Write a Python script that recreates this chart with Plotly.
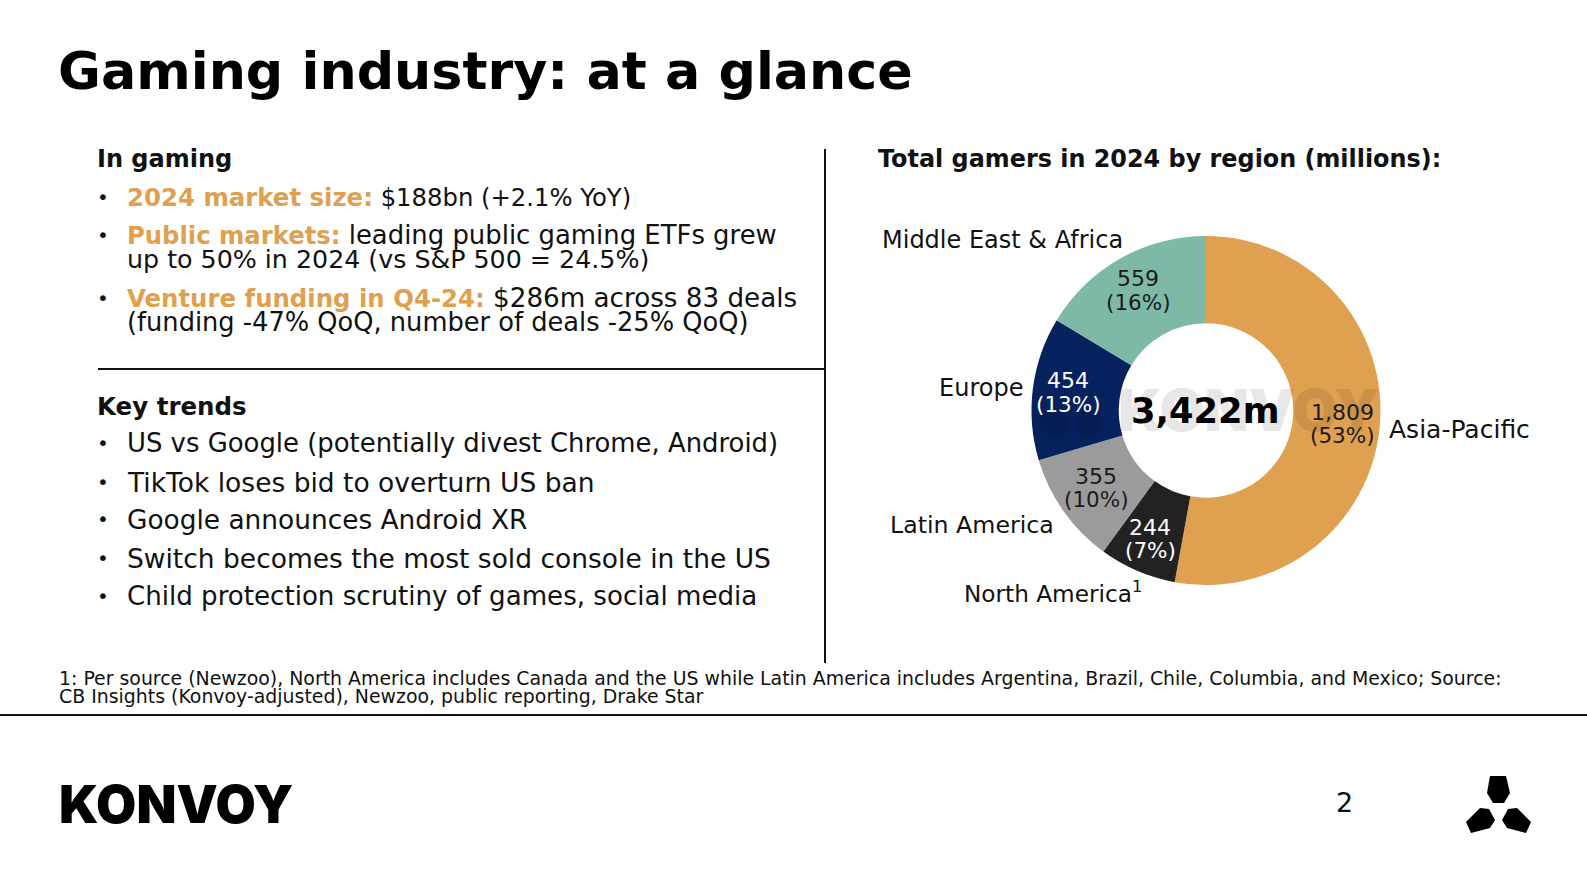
import plotly.graph_objects as go

W, H = 1587, 892
FONT = "DejaVu Sans"
LOGO_FONT = "Inter"
GOLD = "#DFA04F"

regions = ["Asia-Pacific", "North America", "Latin America", "Europe", "Middle East & Africa"]
gamers = [1809, 244, 355, 454, 559]
shares = [53, 7, 10, 13, 16]
slice_colors = ["#DFA04F", "#222222", "#9B9B9B", "#06225E", "#7EB9A8"]
label_colors = ["#1a1a1a", "#ffffff", "#1a1a1a", "#ffffff", "#1a1a1a"]


def gold(s, size):
    return f'<b><span style="color:{GOLD};font-size:{size}px">{s}</span></b>'


in_gaming_lines = [
    gold("2024 market size:", 24.4) + " $188bn (+2.1% YoY)",
    gold("Public markets:", 24.3) + " leading public gaming ETFs grew",
    "up to 50% in 2024 (vs S&P 500 = 24.5%)",
    gold("Venture funding in Q4-24:", 24.4) + " $286m across 83 deals",
    "(funding -47% QoQ, number of deals -25% QoQ)",
]
key_trends = [
    "US vs Google (potentially divest Chrome, Android)",
    "TikTok loses bid to overturn US ban",
    "Google announces Android XR",
    "Switch becomes the most sold console in the US",
    "Child protection scrutiny of games, social media",
]
footnotes = [
    "1: Per source (Newzoo), North America includes Canada and the US while Latin America includes Argentina, Brazil, Chile, Columbia, and Mexico; Source:",
    "CB Insights (Konvoy-adjusted), Newzoo, public reporting, Drake Star",
]

fig = go.Figure(go.Pie(
    labels=regions,
    values=gamers,
    textinfo="none",
    marker=dict(colors=slice_colors, line=dict(width=0)),
    hole=0.5,
    sort=False,
    direction="clockwise",
    rotation=0,
    showlegend=False,
    domain=dict(x=[1031 / W, 1381 / W], y=[1 - 585 / H, 1 - 236 / H]),
))


def add_text(x, y, s, size=24, anchor="left", bold=False, color="#111111", opacity=1, family=FONT, weight=None):
    fig.add_annotation(
        x=x / W, y=1 - y / H, xref="paper", yref="paper",
        text=f"<b>{s}</b>" if bold else s,
        showarrow=False, xanchor=anchor, yanchor="middle", opacity=opacity,
        borderpad=0, font=dict(family=family, size=size, color=color, weight=weight),
    )


def add_line(x0, y0, x1, y1):
    fig.add_shape(type="line", xref="paper", yref="paper",
                  x0=x0 / W, y0=1 - y0 / H, x1=x1 / W, y1=1 - y1 / H,
                  line=dict(color="#111111", width=2))


def add_blob(points, color="#000000", opacity=1):
    path = "M" + " L".join(f"{x / W},{1 - y / H}" for x, y in points) + " Z"
    fig.add_shape(type="path", xref="paper", yref="paper", path=path,
                  fillcolor=color, opacity=opacity, line=dict(width=0), layer="above")


add_text(57, 70, "Gaming industry: at a glance", size=52.3, bold=True, color="#000000")

# left column
add_text(96, 159, "In gaming", size=24, bold=True)
for y, size, line in zip([197, 235, 259, 298, 322], [24.3, 25.9, 25.3, 26.2, 25.7], in_gaming_lines):
    add_text(125.5, y, line, size=size)
for y in [197, 235, 298]:
    add_text(96, y, "•", size=20)

add_text(96, 406, "Key trends", size=24.5, bold=True)
for y, size, line in zip([443, 482, 519, 558, 596], [25.9, 26.5, 26.4, 26.5, 26.1], key_trends):
    add_text(96, y, "•", size=20)
    add_text(125.5, y, line, size=size)

# right column
add_text(877, 159, "Total gamers in 2024 by region (millions):", size=23.9, bold=True)
add_text(1124, 240, regions[4], size=24, anchor="right")
add_text(1024, 388, regions[3], size=24, anchor="right")
add_text(1055, 525, regions[2], size=23.7, anchor="right")
add_text(1143, 592, regions[1] + "<sup>1</sup>", size=23.2, anchor="right")
add_text(1531, 429, regions[0], size=25, anchor="right")

# watermark sits over the donut
add_text(1248, 410, "KONVOY", size=58, anchor="center", color="#000000", opacity=0.09, family=LOGO_FONT, weight=900)
add_blob([(1040, 412), (1060, 408), (1070, 420), (1066, 434), (1052, 438), (1040, 430)], "#000000", 0.12)
add_blob([(1075, 420), (1085, 408), (1100, 412), (1102, 430), (1088, 438), (1076, 434)], "#000000", 0.12)
add_text(1205, 411, "3,422m", size=35.3, anchor="center", bold=True, color="#000000")

# slice labels, two tight lines each
label_centres = [(1342, 412), (1150, 527), (1096, 476), (1068, 381), (1138, 279)]
for (x, y), value, share, colour in zip(label_centres, gamers, shares, label_colors):
    add_text(x, y, f"{value:,}", size=22, anchor="center", color=colour)
    add_text(x, y + 23.5, f"({share}%)", size=21.5, anchor="center", color=colour)

# footer
for y, line in zip([678, 696], footnotes):
    add_text(57.5, y, line, size=18.9)
add_text(58, 804, "KONVOY", size=52, color="#000000", family=LOGO_FONT, weight=900)
add_text(1335, 802, "2", size=27)

add_blob([(1490, 776), (1506, 776), (1510, 793), (1504, 803), (1493, 803), (1487, 793)])
add_blob([(1466, 822), (1480, 808), (1489, 809), (1495, 820), (1490, 828), (1471, 833)])
add_blob([(1502, 820), (1508, 809), (1517, 808), (1531, 822), (1526, 833), (1507, 828)])

add_line(825, 149, 825, 663)
add_line(98, 369, 825, 369)
add_line(0, 715, 1587, 715)

fig.update_layout(
    width=W, height=H,
    margin=dict(l=0, r=0, t=0, b=0),
    paper_bgcolor="#ffffff",
    plot_bgcolor="#ffffff",
    font=dict(family=FONT, color="#111111"),
)

fig.write_html("out.html", config=dict(displayModeBar=False), post_script="document.body.style.margin='0';")
